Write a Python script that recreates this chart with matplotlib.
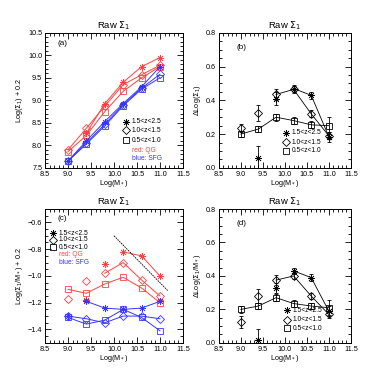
"""Raw Sigma_1 profiles for QG and SFG in three redshift bins."""

import matplotlib

matplotlib.use("Agg")
import matplotlib.pyplot as plt
import numpy as np
from matplotlib.ticker import MultipleLocator

plt.rcParams["font.family"] = ["Liberation Sans", "DejaVu Sans"]
plt.rcParams["mathtext.fontset"] = "dejavusans"

mass = np.array([9.0, 9.4, 9.8, 10.2, 10.6, 11.0])
bins = ["1.5<z<2.5", "1.0<z<1.5", "0.5<z<1.0"]

# panel (a): Log(Sigma_1) + 0.2
qg_s1_hi = [np.nan, 8.27, 8.93, 9.40, 9.75, 9.95]
qg_s1_mid = [7.90, 8.38, 8.87, 9.35, 9.57, 9.78]
qg_s1_lo = [7.86, 8.22, 8.75, 9.20, 9.50, 9.75]
sfg_s1_hi = [7.65, 8.10, 8.53, 8.93, 9.30, 9.75]
sfg_s1_mid = [7.65, 8.05, 8.47, 8.90, 9.27, 9.58]
sfg_s1_lo = [7.65, 8.03, 8.43, 8.88, 9.25, 9.50]

# panel (b): Delta Log(Sigma_1) with errors
d_s1_hi = [np.nan, 0.06, 0.41, 0.47, 0.43, 0.185]
d_s1_hi_err = [np.nan, 0.07, 0.04, 0.02, 0.02, 0.03]
d_s1_mid = [0.235, 0.325, 0.435, 0.465, 0.32, 0.19]
d_s1_mid_err = [0.025, 0.05, 0.035, 0.02, 0.02, 0.02]
d_s1_lo = [0.20, 0.23, 0.30, 0.28, 0.255, 0.25]
d_s1_lo_err = [0.02, 0.02, 0.02, 0.02, 0.02, 0.05]

# panel (c): Log(Sigma_1/M*) + 0.2
qg_sm_hi = [np.nan, -1.18, -0.91, -0.82, -0.85, -1.00]
qg_sm_mid = [-1.17, -1.04, -0.98, -0.90, -1.03, -1.15]
qg_sm_lo = [-1.10, -1.13, -1.06, -1.01, -1.09, -1.20]
sfg_sm_hi = [-1.30, -1.19, -1.24, -1.25, -1.24, -1.19]
sfg_sm_mid = [-1.30, -1.32, -1.35, -1.30, -1.30, -1.32]
sfg_sm_lo = [-1.31, -1.36, -1.33, -1.25, -1.31, -1.41]
guide_x = [10.0, 11.17]
guide_y = [-0.70, -1.11]

# panel (d): Delta Log(Sigma_1/M*) with errors
d_sm_hi = [np.nan, 0.015, 0.33, 0.43, 0.39, 0.19]
d_sm_hi_err = [np.nan, 0.065, 0.03, 0.02, 0.02, 0.03]
d_sm_mid = [0.125, 0.28, 0.375, 0.40, 0.28, 0.17]
d_sm_mid_err = [0.035, 0.04, 0.03, 0.02, 0.02, 0.02]
d_sm_lo = [0.20, 0.22, 0.27, 0.235, 0.22, 0.21]
d_sm_lo_err = [0.02, 0.02, 0.02, 0.02, 0.02, 0.045]

RED = "#ff4040"
BLUE = "#3535ff"
STAR = (8, 2, 0)
MARKERS = [STAR, "D", "s"]
MSIZES = [5.0, 3.6, 4.9]
MEWS = [0.5, 0.6, 0.6]
FS = 5.2


def style_axis(ax, xlim, ylim, ymajor, yminor, ylabel, tag, title):
    ax.set_xlim(*xlim)
    ax.set_ylim(*ylim)
    ax.xaxis.set_major_locator(MultipleLocator(0.5))
    ax.xaxis.set_minor_locator(MultipleLocator(0.1))
    ax.yaxis.set_major_locator(MultipleLocator(ymajor))
    ax.yaxis.set_minor_locator(MultipleLocator(yminor))
    ax.tick_params(which="both", direction="in", top=True, right=True, labelsize=FS, width=0.6, pad=2)
    ax.tick_params(which="major", length=4)
    ax.tick_params(which="minor", length=2)
    for sp in ax.spines.values():
        sp.set_linewidth(0.7)
    ax.set_xlabel(r"Log(M$_*$)", fontsize=FS, labelpad=0.5)
    ax.set_ylabel(ylabel, fontsize=FS, labelpad=2)
    ax.set_title(title, fontsize=6.8, pad=3)
    ax.text(tag[1], tag[2], tag[0], transform=ax.transAxes, fontsize=FS + 0.6)


def plot_series(ax, ys, color, connect_from):
    for y, mk, ms, mew, start in zip(ys, MARKERS, MSIZES, MEWS, connect_from):
        y = np.asarray(y, dtype=float)
        ax.plot(mass[start:], y[start:], color=color, lw=0.7)
        ax.plot(mass, y, ls="none", marker=mk, ms=ms, mfc="none", mec=color, mew=mew)


def plot_delta(ax, ys, errs, connect_from):
    for y, e, mk, ms, mew, start in zip(ys, errs, MARKERS, MSIZES, MEWS, connect_from):
        y = np.asarray(y, dtype=float)
        ax.errorbar(mass, y, yerr=e, ls="none", ecolor="black", elinewidth=0.6, capsize=1.5, capthick=0.6)
        ax.plot(mass[start:], y[start:], color="black", lw=0.6)
        ax.plot(mass, y, ls="none", marker=mk, ms=ms, mfc="none", mec="black", mew=mew)


def draw_key(ax, x, ys, colors_text=None):
    for (yy, mk, ms, mew, lab) in zip(ys, MARKERS, MSIZES, MEWS, bins):
        ax.plot([x], [yy], transform=ax.transAxes, marker=mk, ms=ms, mfc="none", mec="black", mew=mew, ls="none", clip_on=False)
        ax.text(x + 0.04, yy, lab, transform=ax.transAxes, fontsize=FS - 0.4, va="center")
    if colors_text:
        for (yy, txt, col) in colors_text:
            ax.text(x + 0.04, yy, txt, transform=ax.transAxes, fontsize=FS - 0.4, va="center", color=col)


fig = plt.figure(figsize=(3.78, 3.78), dpi=100)
ax_a = fig.add_axes([0.119, 0.556, 0.365, 0.357])
ax_b = fig.add_axes([0.579, 0.556, 0.349, 0.357])
ax_c = fig.add_axes([0.119, 0.093, 0.365, 0.354])
ax_d = fig.add_axes([0.579, 0.093, 0.349, 0.354])

title = r"Raw $\Sigma_1$"

# (a)
plot_series(ax_a, [qg_s1_hi, qg_s1_mid, qg_s1_lo], RED, [1, 0, 0])
plot_series(ax_a, [sfg_s1_hi, sfg_s1_mid, sfg_s1_lo], BLUE, [0, 0, 0])
style_axis(ax_a, (8.5, 11.5), (7.5, 10.5), 0.5, 0.1, r"Log($\Sigma_1$) + 0.2", ("(a)", 0.09, 0.91), title)
draw_key(ax_a, 0.59, [0.34, 0.28, 0.205], [(0.13, "red: QG", RED), (0.067, "blue: SFG", BLUE)])

# (b)
plot_delta(ax_b, [d_s1_hi, d_s1_mid, d_s1_lo], [d_s1_hi_err, d_s1_mid_err, d_s1_lo_err], [3, 2, 0])
style_axis(ax_b, (8.5, 11.5), (0.0, 0.8), 0.2, 0.05, r"$\Delta$Log($\Sigma_1$)", ("(b)", 0.13, 0.88), title)
draw_key(ax_b, 0.51, [0.26, 0.19, 0.128])

# (c)
plot_series(ax_c, [qg_sm_hi, qg_sm_mid, qg_sm_lo], RED, [3, 2, 0])
plot_series(ax_c, [sfg_sm_hi, sfg_sm_mid, sfg_sm_lo], BLUE, [1, 0, 0])
ax_c.plot(guide_x, guide_y, color="black", lw=0.6, ls=(0, (2, 1)))
style_axis(ax_c, (8.5, 11.5), (-1.5, -0.5), 0.2, 0.05, r"Log($\Sigma_1$/M$_*$) + 0.2", ("(c)", 0.09, 0.915), title)
draw_key(ax_c, 0.06, [0.82, 0.77, 0.716], [(0.66, "red: QG", RED), (0.60, "blue: SFG", BLUE)])

# (d)
plot_delta(ax_d, [d_sm_hi, d_sm_mid, d_sm_lo], [d_sm_hi_err, d_sm_mid_err, d_sm_lo_err], [3, 2, 0])
style_axis(ax_d, (8.5, 11.5), (0.0, 0.8), 0.2, 0.05, r"$\Delta$Log($\Sigma_1$/M$_*$)", ("(d)", 0.13, 0.88), title)
draw_key(ax_d, 0.52, [0.243, 0.174, 0.11])

fig.savefig("out.png", dpi=100)
plt.close(fig)
